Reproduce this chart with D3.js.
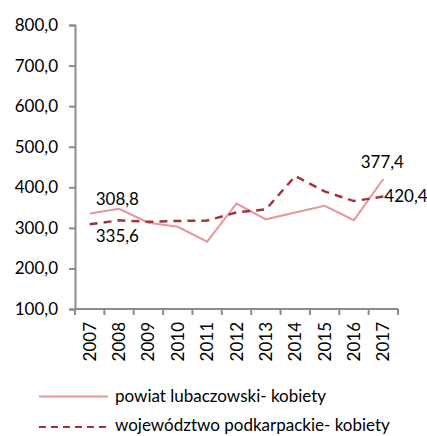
<!DOCTYPE html>
<html><head><meta charset="utf-8">
<script src="https://cdn.jsdelivr.net/npm/d3@7"></script>
<style>
html,body{margin:0;padding:0;background:#fff;}
svg{display:block;font-family:Lato, "Open Sans", sans-serif;}
</style></head>
<body>
<script>
const years = ["2007","2008","2009","2010","2011","2012","2013","2014","2015","2016","2017"];
const powiat = [335.6, 347.0, 312.6, 302.7, 265.8, 360.0, 321.0, 338.0, 354.4, 319.0, 420.4];
const wojewodztwo = [308.8, 318.5, 315.0, 317.0, 318.0, 338.0, 345.5, 427.6, 390.0, 366.0, 377.4];
const seriesNames = ["powiat lubaczowski- kobiety", "województwo podkarpackie- kobiety"];
const yTicks = [100, 200, 300, 400, 500, 600, 700, 800];
// data labels as they appear in the picture: [series index, point index, text]
const labels = [[0, 0, "308,8"], [1, 0, "335,6"], [0, 10, "377,4"], [1, 10, "420,4"]];

const W = 427, H = 436, FS = "17px";
const svg = d3.select("body").append("svg").attr("width", W).attr("height", H);

const x = d3.scaleBand().domain(years).range([75, 398]);
const y = d3.scaleLinear().domain([100, 800]).range([309, 25]);
const fmt = v => d3.format(".1f")(v).replace(".", ",");
const axisColor = "#8c8c8c";

// y axis
const gy = svg.append("g").attr("transform", "translate(75,0)")
  .call(d3.axisLeft(y).tickValues(yTicks).tickFormat(fmt).tickSize(6).tickPadding(11));
gy.select(".domain").attr("stroke", axisColor).attr("stroke-width", 2);
gy.selectAll(".tick line").attr("stroke", axisColor).attr("stroke-width", 2);
gy.selectAll(".tick text").attr("fill", "#000").style("font-size", FS).style("font-family", "Lato");

// x axis
const gx = svg.append("g").attr("transform", "translate(0,309)");
gx.append("line").attr("x1", 75).attr("x2", 398).attr("stroke", axisColor).attr("stroke-width", 2);
const bounds = years.map(d => x(d)).concat([x.range()[1]]);
gx.selectAll("line.tk").data(bounds).enter().append("line").attr("class", "tk")
  .attr("x1", d => d).attr("x2", d => d).attr("y1", 0).attr("y2", 6)
  .attr("stroke", axisColor).attr("stroke-width", 2);
gx.selectAll("text").data(years).enter().append("text")
  .attr("transform", d => `translate(${x(d) + x.bandwidth() / 2 + 6},13) rotate(-90)`)
  .attr("text-anchor", "end").style("font-size", FS).text(d => d);

const cx = d => x(d) + x.bandwidth() / 2;
const line = d3.line().x((d, i) => cx(years[i])).y(d => y(d));

svg.append("path").datum(powiat).attr("d", line).attr("fill", "none")
  .attr("stroke", "#e8969a").attr("stroke-width", 2);
svg.append("path").datum(wojewodztwo).attr("d", line).attr("fill", "none")
  .attr("stroke", "#a0343a").attr("stroke-width", 2.5).attr("stroke-dasharray", "8,6");

// data labels
const series = [powiat, wojewodztwo];
labels.forEach(([s, i, t]) => {
  const px = cx(years[i]), py = y(series[s][i]);
  let tx, ty, anchor;
  if (i === 0 && s === 0) { tx = px + 6; ty = py - 8; anchor = "start"; }
  else if (i === 0) { tx = px + 6; ty = py + 18; anchor = "start"; }
  else if (s === 0) { tx = px - 1; ty = py - 11; anchor = "middle"; }
  else { tx = px + 1; ty = py + 6; anchor = "start"; }
  svg.append("text").attr("x", tx).attr("y", ty).attr("text-anchor", anchor)
    .style("font-size", FS).text(t);
});

// legend
const lg = svg.append("g");
lg.append("line").attr("x1", 39).attr("x2", 108).attr("y1", 396.5).attr("y2", 396.5)
  .attr("stroke", "#e8969a").attr("stroke-width", 2);
lg.append("line").attr("x1", 39).attr("x2", 108).attr("y1", 427).attr("y2", 427)
  .attr("stroke", "#a0343a").attr("stroke-width", 2).attr("stroke-dasharray", "7,5");
lg.append("text").attr("x", 115).attr("y", 402).style("font-size", FS).text(seriesNames[0]);
lg.append("text").attr("x", 115).attr("y", 431).style("font-size", FS).text(seriesNames[1]);
</script>
</body></html>
